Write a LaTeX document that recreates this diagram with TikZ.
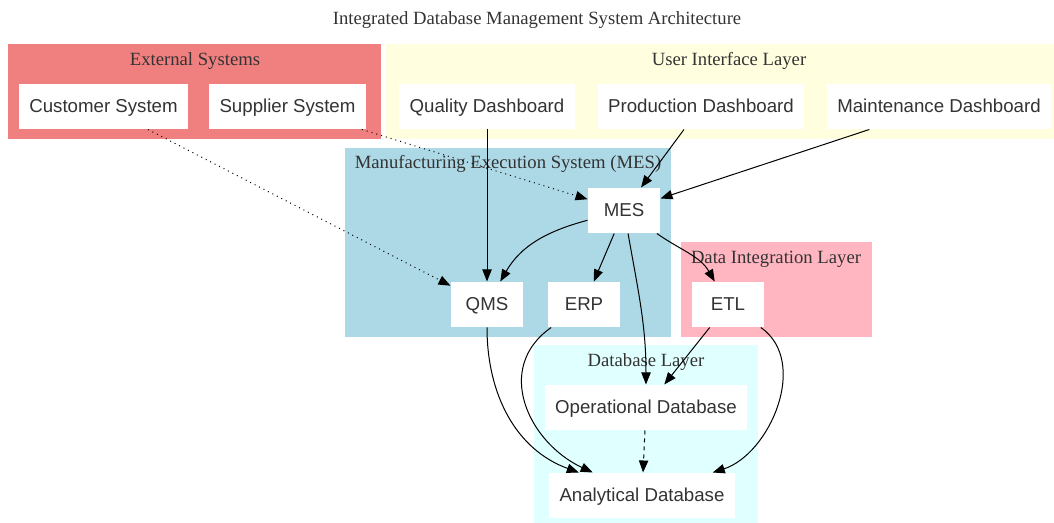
\documentclass[tikz,border=0pt]{standalone}
\usepackage{fontspec}
\setmainfont{Liberation Serif}
\setsansfont{Liberation Sans}
\usetikzlibrary{arrows.meta}
\definecolor{extcol}{HTML}{F08080}
\definecolor{uicol}{HTML}{FFFFE0}
\definecolor{mescol}{HTML}{ADD8E6}
\definecolor{dilcol}{HTML}{FFB6C1}
\definecolor{dbcol}{HTML}{E0FFFF}
\definecolor{txtcol}{HTML}{333333}
\begin{document}
\begin{tikzpicture}[x=0.75pt, y=-0.75pt, line width=0.75pt, >={Triangle[length=9pt,width=7pt]}]
    \tikzstyle{comp} = [rectangle, fill=white, minimum width=54pt, minimum height=33.75pt, inner xsep=7.9pt, text=txtcol, text depth=1pt, font=\sffamily\fontsize{14}{16}\selectfont]
    \tikzstyle{clabel} = [text=txtcol, font=\fontsize{14}{16}\selectfont]
    \useasboundingbox (0,0) rectangle (1054,523);

    % Clusters
    \fill [extcol] (8,44) rectangle (381,139);
    \fill [uicol] (386,44) rectangle (1054,139);
    \fill [mescol] (345,148) rectangle (671,337);
    \fill [dilcol] (681,242) rectangle (872,337);
    \fill [dbcol] (534,345) rectangle (758,523);

    \node [clabel] (title) at (537,20) {Integrated Database Management System Architecture};
    \node [clabel] (extlabel) at (195,61) {External Systems};
    \node [clabel] (uilabel) at (729,61) {User Interface Layer};
    \node [clabel] (meslabel) at (508,164) {Manufacturing Execution System (MES)};
    \node [clabel] (dillabel) at (776,259) {Data Integration Layer};
    \node [clabel] (dblabel) at (646,362) {Database Layer};

    % External systems
    \node [comp] (customer) at (103.5,106.5) {Customer System};
    \node [comp] (supplier) at (287.5,106.5) {Supplier System};

    % User interface
    \node [comp] (quality) at (487,106.5) {Quality Dashboard};
    \node [comp] (production) at (701,106.5) {Production Dashboard};
    \node [comp] (maintenance) at (939,106.5) {Maintenance Dashboard};

    % MES, integration, databases
    \node [comp] (mes) at (624,210.5) {MES};
    \node [comp] (qms) at (487,304.5) {QMS};
    \node [comp] (erp) at (584,304.5) {ERP};
    \node [comp] (etl) at (728,304.5) {ETL};
    \node [comp] (opdb) at (646,407.5) {Operational Database};
    \node [comp] (anadb) at (642,495.5) {Analytical Database};

    % Connections
    \draw [->, dash pattern=on 0.75pt off 3pt] (customer) -- (qms);
    \draw [->, dash pattern=on 0.75pt off 3pt] (supplier) -- (mes);
    \draw [->] (quality) -- (qms);
    \draw [->] (production) -- (mes);
    \draw [->] (maintenance) -- (mes);

    \draw [->] (mes) to[out=195, in=60] (qms);
    \draw [->] (mes) -- (erp);
    \draw [->] (mes) to[out=-80, in=90] (opdb);
    \draw [->] (mes) to[out=-35, in=120] (etl);

    \draw [->] (qms) to[out=-90, in=160] (anadb);
    \draw [->] (erp) to[out=-145, in=155, looseness=1.2] (anadb);
    \draw [->] (etl) -- (opdb);
    \draw [->] (etl) to[out=-35, in=18] (anadb);
    \draw [->, dashed] (opdb) -- (anadb);
\end{tikzpicture}
\end{document}
